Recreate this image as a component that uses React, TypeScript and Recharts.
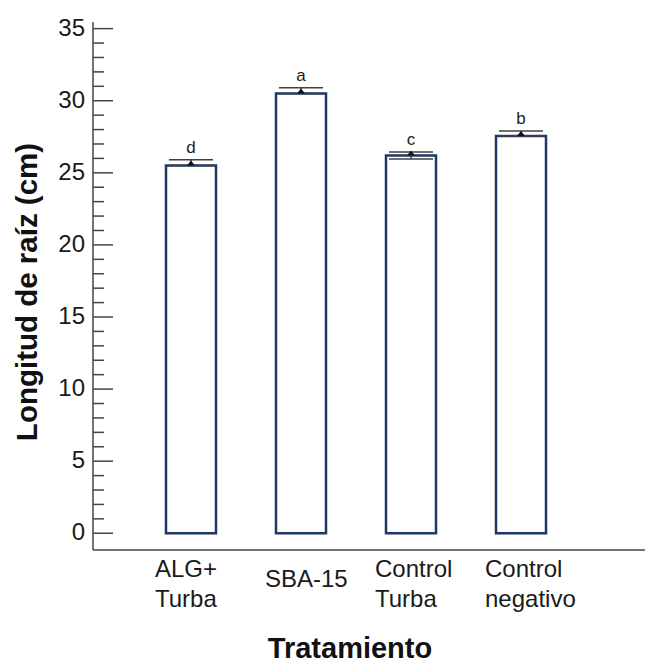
import React from "react";
import { ComposedChart, Bar, Line, ErrorBar, XAxis, YAxis, LabelList } from "recharts";

document.body.style.margin = "0";

const categories = ["ALG+\nTurba", "SBA-15", "Control\nTurba", "Control\nnegativo"];
const means = [25.5, 30.5, 26.2, 27.55];
const errLow = [0, 0, 0.25, 0];
const errHigh = [0.4, 0.4, 0.25, 0.35];
const letters = ["d", "a", "c", "b"];
const yTicks = Array.from({ length: 36 }, (_, i) => i);

const data = categories.map((name, i) => ({
  name,
  mean: means[i],
  err: [errLow[i], errHigh[i]],
  top: means[i] + errHigh[i],
  letter: letters[i],
}));

const FONT = "'Liberation Sans', Arial, sans-serif";
const AXIS_X = 93;
const AXIS_COLOR = "#444";

const YTick = (props: any) => {
  const { y, payload } = props;
  const v = payload.value;
  const major = v % 5 === 0;
  return (
    <g>
      <line x1={AXIS_X} x2={AXIS_X + (major ? 20 : 11)} y1={y} y2={y} stroke={AXIS_COLOR} strokeWidth={1.5} />
      {major && (
        <text x={85} y={y + 7} textAnchor="end" fontSize={24} fontFamily={FONT} fill="#1a1a1a">
          {v}
        </text>
      )}
    </g>
  );
};

const XTick = (props: any) => {
  const { x, payload } = props;
  const lines = String(payload.value).split("\n");
  const base = 550;
  return (
    <g>
      {lines.map((t, i) => (
        <text
          key={i}
          x={x - 36}
          y={lines.length === 1 ? base + 37 : base + 27 + i * 30}
          textAnchor="start"
          fontSize={24}
          fontFamily={FONT}
          fill="#1a1a1a"
        >
          {t}
        </text>
      ))}
    </g>
  );
};

const XLabel = () => (
  <text x={350} y={658} textAnchor="middle" fontSize={29} fontWeight="bold" fontFamily={FONT} fill="#111">
    Tratamiento
  </text>
);

const YLabel = () => (
  <text
    x={37}
    y={292}
    transform="rotate(-90 37 292)"
    textAnchor="middle"
    fontSize={29.5}
    fontWeight="bold"
    fontFamily={FONT}
    fill="#111"
  >
    Longitud de raíz (cm)
  </text>
);

const MeanMarker = (props: any) => {
  const { cx, cy } = props;
  if (cx == null || cy == null) return null;
  return <path d={`M${cx - 4},${cy} L${cx + 4},${cy} L${cx},${cy - 5} Z`} fill="#111" />;
};

const LetterLabel = (props: any) => {
  const { x, y, value } = props;
  return (
    <text x={x} y={y - 7} textAnchor="middle" fontSize={17} fontFamily={FONT} fill="#222">
      {value}
    </text>
  );
};

export default function App() {
  return (
    <ComposedChart width={650} height={664} data={data} margin={{ top: 22, right: 5, bottom: 14, left: 0 }}>
      <XAxis
        dataKey="name"
        interval={0}
        height={100}
        padding={{ left: 43, right: 69 }}
        axisLine={{ stroke: AXIS_COLOR, strokeWidth: 1.5 }}
        tickLine={false}
        tick={<XTick />}
        label={<XLabel />}
      />
      <YAxis
        type="number"
        width={93}
        domain={[-1.16, 35.46]}
        allowDataOverflow
        ticks={yTicks}
        interval={0}
        axisLine={{ stroke: AXIS_COLOR, strokeWidth: 1.5 }}
        tickLine={false}
        tick={<YTick />}
        label={<YLabel />}
      />
      <Bar dataKey="mean" fill="#fff" stroke="#1f3864" strokeWidth={2.5} barSize={50} isAnimationActive={false}>
        <ErrorBar dataKey="err" width={22} stroke="#404040" strokeWidth={1.5} direction="y" />
      </Bar>
      <Line dataKey="mean" stroke="none" dot={<MeanMarker />} activeDot={false} isAnimationActive={false} />
      <Line dataKey="top" stroke="none" dot={false} activeDot={false} isAnimationActive={false}>
        <LabelList dataKey="letter" content={<LetterLabel />} />
      </Line>
    </ComposedChart>
  );
}
